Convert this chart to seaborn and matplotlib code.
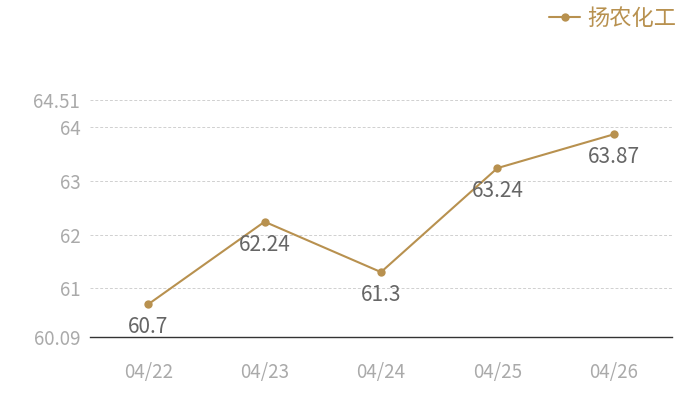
import matplotlib
matplotlib.use("Agg")
import matplotlib.pyplot as plt
import seaborn as sns
import pandas as pd

dates = ["04/22", "04/23", "04/24", "04/25", "04/26"]
values = [60.7, 62.24, 61.3, 63.24, 63.87]
series_name = "扬农化工"
y_ticks = [60.09, 61, 62, 63, 64, 64.51]
y_tick_labels = ["60.09", "61", "62", "63", "64", "64.51"]

sns.set_theme(style="white")
plt.rcParams['font.family'] = ['Noto Sans CJK SC', 'DejaVu Sans']

color = "#b8914f"
df = pd.DataFrame({"date": dates, "value": values, "series": series_name})

fig = plt.figure(figsize=(7, 4), dpi=100)
ax = fig.add_axes([90/700, 1-337/400, 582/700, 237/400])

sns.lineplot(data=df, x="date", y="value", hue="series", palette=[color],
             marker="o", markersize=6, markeredgewidth=0, linewidth=1.5,
             ax=ax, sort=False)

ax.set_xlim(-0.5, 4.5)
ax.set_ylim(60.09, 64.51)
ax.set_yticks(y_ticks)
ax.set_yticklabels(y_tick_labels)
ax.set_xlabel("")
ax.set_ylabel("")
for yt in y_ticks[1:]:
    ax.axhline(yt, color="#d0d0d0", linewidth=0.7, linestyle=(0, (3, 2)), zorder=0)

for s in ["top", "right", "left"]:
    ax.spines[s].set_visible(False)
ax.spines["bottom"].set_color("#333333")
ax.spines["bottom"].set_linewidth(1)
ax.tick_params(axis="both", length=0, labelsize=13.5, labelcolor="#aaaaaa")
ax.tick_params(axis="x", pad=18)
ax.tick_params(axis="y", pad=7)

for i, v in enumerate(values):
    ax.annotate(f"{v:g}", (i, v), xytext=(0, -8.5), textcoords="offset points",
                ha="center", va="top", fontsize=15, color="#666666")

leg = ax.legend(loc="upper right", bbox_to_anchor=(676/700, 1-7/400), bbox_transform=fig.transFigure,
                frameon=False, fontsize=16, handlelength=1.4, handletextpad=0.3,
                borderaxespad=0.0, borderpad=0.0)
for t in leg.get_texts():
    t.set_color(color)

fig.savefig("out.png", dpi=100)
